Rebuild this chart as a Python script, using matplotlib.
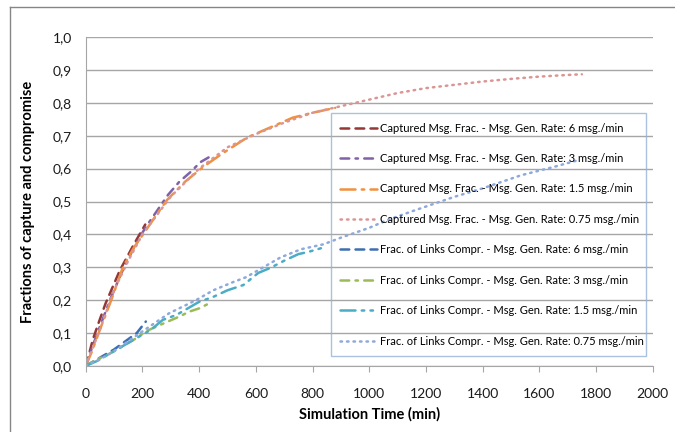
import matplotlib
matplotlib.use("Agg")
import matplotlib.pyplot as plt
from matplotlib.lines import Line2D
from matplotlib.ticker import FuncFormatter, MultipleLocator

# ---- data ----
cap6_t = [0, 10, 25, 45, 70, 95, 120, 145, 170, 190, 210]
cap6_y = [0, 0.03, 0.08, 0.13, 0.19, 0.24, 0.29, 0.33, 0.37, 0.40, 0.43]

cap3_t = [0, 20, 50, 90, 130, 170, 210, 250, 290, 330, 370, 405, 435]
cap3_y = [0, 0.05, 0.12, 0.21, 0.29, 0.36, 0.42, 0.47, 0.52, 0.56, 0.59, 0.62, 0.635]

cap15_t = [0, 20, 50, 90, 131, 170, 202, 250, 287, 350, 414, 480, 570, 650, 730, 800, 880]
cap15_y = [0, 0.04, 0.11, 0.20, 0.30, 0.36, 0.40, 0.46, 0.505, 0.56, 0.605, 0.645,
           0.695, 0.725, 0.755, 0.77, 0.785]

cap075_t = [0, 50, 100, 150, 200, 300, 400, 500, 600, 700, 800, 900, 1000, 1100,
            1200, 1300, 1400, 1500, 1600, 1700, 1750]
cap075_y = [0, 0.11, 0.23, 0.32, 0.40, 0.515, 0.60, 0.665, 0.705, 0.74, 0.77, 0.79,
            0.81, 0.83, 0.845, 0.855, 0.865, 0.873, 0.88, 0.885, 0.887]

lnk6_t = [0, 30, 60, 100, 140, 180, 212]
lnk6_y = [0, 0.015, 0.03, 0.05, 0.075, 0.10, 0.135]

lnk3_t = [0, 40, 80, 130, 180, 212, 250, 290, 330, 365, 400, 435]
lnk3_y = [0, 0.02, 0.035, 0.06, 0.085, 0.105, 0.12, 0.135, 0.15, 0.165, 0.175, 0.19]

lnk15_t = [0, 40, 80, 130, 180, 230, 272, 320, 360, 400, 450, 500, 556, 609, 651,
           700, 750, 786, 846]
lnk15_y = [0, 0.015, 0.035, 0.06, 0.085, 0.11, 0.14, 0.155, 0.175, 0.195, 0.21, 0.23,
           0.246, 0.283, 0.298, 0.32, 0.34, 0.347, 0.362]

lnk075_t = [0, 50, 100, 150, 200, 294, 389, 450, 520, 566, 687, 760, 839, 900, 1000,
            1065, 1150, 1299, 1400, 1536, 1650, 1738]
lnk075_y = [0, 0.02, 0.045, 0.075, 0.105, 0.16, 0.20, 0.23, 0.255, 0.27, 0.33, 0.355,
            0.37, 0.39, 0.42, 0.444, 0.47, 0.514, 0.54, 0.58, 0.605, 0.626]

labels = [
    "Captured Msg. Frac. - Msg. Gen. Rate: 6 msg./min",
    "Captured Msg. Frac. - Msg. Gen. Rate: 3 msg./min",
    "Captured Msg. Frac. - Msg. Gen. Rate: 1.5 msg./min",
    "Captured Msg. Frac. - Msg. Gen. Rate: 0.75 msg./min",
    "Frac. of Links Compr. - Msg. Gen. Rate: 6 msg./min",
    "Frac. of Links Compr. - Msg. Gen. Rate: 3 msg./min",
    "Frac. of Links Compr. - Msg. Gen. Rate: 1.5 msg./min",
    "Frac. of Links Compr. - Msg. Gen. Rate: 0.75 msg./min",
]

plt.rcParams['font.family'] = ['Lato', 'DejaVu Sans']

fig = plt.figure(figsize=(6.75, 4.32), dpi=100)
ax = fig.add_axes([0.127, 0.153, 0.840, 0.761])

series = [
    (cap6_t, cap6_y, '#953735', (0, (3.5, 2.5))),
    (cap3_t, cap3_y, '#7F62A8', (0, (3.5, 2.5, 1, 2.5))),
    (cap15_t, cap15_y, '#F0913F', (0, (6, 2.5, 1, 2.5))),
    (cap075_t, cap075_y, '#D99694', (0, (0.6, 2.0))),
    (lnk6_t, lnk6_y, '#3C6EB4', (0, (3.5, 2.5))),
    (lnk3_t, lnk3_y, '#9BBB59', (0, (3.5, 2.5, 1, 2.5))),
    (lnk15_t, lnk15_y, '#4BACC6', (0, (6, 2.5, 1, 2.5, 1, 2.5))),
    (lnk075_t, lnk075_y, '#8EA9DB', (0, (0.6, 2.0))),
]

for (t, y, color, ls), lab in zip(series, labels):
    ax.plot(t, y, color=color, linestyle=ls, linewidth=1.8,
            dash_capstyle='round', label=lab)

ax.set_xlim(0, 2000)
ax.set_ylim(0, 1.0)
ax.xaxis.set_major_locator(MultipleLocator(200))
ax.yaxis.set_major_locator(MultipleLocator(0.1))
ax.yaxis.set_major_formatter(FuncFormatter(lambda v, p: f"{v:.1f}".replace('.', ',')))
ax.grid(axis='y', color='#A6A6A6', linewidth=1)
ax.set_axisbelow(True)

for s in ['top', 'right']:
    ax.spines[s].set_visible(False)
for s in ['left', 'bottom']:
    ax.spines[s].set_color('#A6A6A6')
ax.tick_params(axis='x', direction='out', length=4, color='#A6A6A6',
               labelsize=10, labelcolor='#1a1a1a', pad=12)
ax.tick_params(axis='y', length=0, labelsize=10, labelcolor='#1a1a1a', pad=10)

ax.set_xlabel("Simulation Time (min)", fontsize=10.5, fontweight='bold', labelpad=5)
ax.set_ylabel("Fractions of capture and compromise", fontsize=10.5, fontweight='bold',
              labelpad=13)

leg = ax.legend(loc='upper left', bbox_to_anchor=(0.432, 0.769, 0.557, 0.0),
                mode='expand', borderaxespad=0, frameon=True, fancybox=False,
                fontsize=8, handlelength=3.3, labelspacing=1.75, borderpad=0.85,
                handletextpad=0.3)
leg.get_frame().set_facecolor('none')
leg.get_frame().set_edgecolor('#95B3D7')
leg.get_frame().set_linewidth(1)

# outer chart frame (left and top edges visible)
fig.add_artist(Line2D([10 / 675, 10 / 675], [0, 1 - 7 / 432], color='#868686',
                      linewidth=1, transform=fig.transFigure))
fig.add_artist(Line2D([10 / 675, 1], [1 - 7 / 432, 1 - 7 / 432], color='#868686',
                      linewidth=1, transform=fig.transFigure))

fig.savefig("out.png", dpi=100)
